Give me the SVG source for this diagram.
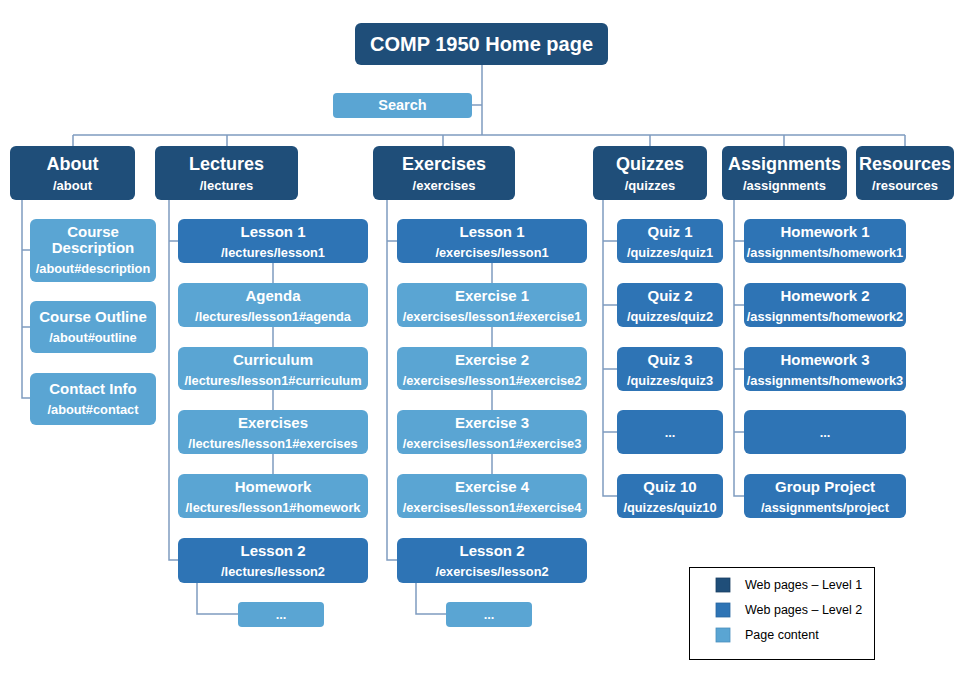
<svg xmlns="http://www.w3.org/2000/svg" width="967" height="674" viewBox="0 0 967 674">
<style>
.l1{fill:#1f4e79}
.l2{fill:#2e74b5}
.pc{fill:#5aa5d3}
text{font-family:"Liberation Sans",Arial,sans-serif;font-weight:bold;fill:#fff;text-anchor:middle}
.t0{font-size:20px}
.t1{font-size:18px}
.s1{font-size:13px}
.t2{font-size:15px}
.s2{font-size:12.8px}
.lg{font-weight:normal;fill:#000;text-anchor:start;font-size:12.5px;font-family:"Liberation Sans",Arial,sans-serif}
.c{fill:none;stroke:#7f9cc0;stroke-width:1.5}
</style>
<rect width="967" height="674" fill="#fff"/>
<g id="connectors" class="c">
<path d="M482 65V135M472 105H482M73 135H905M73 135V146M227 135V146M443 135V146M650 135V146M784 135V146M905 135V146"/>
<path d="M22 200V398H30M22 250H30M22 327H30"/>
<path d="M169 200V560H178M169 241H178M273 263V283M273 327V347M273 390V410M273 454V474M197 583V614H238"/>
<path d="M387 200V560H397M387 241H397M492 263V283M492 327V347M492 390V410M492 454V474M416 583V614H446"/>
<path d="M603 200V496H617M603 241H617M603 305H617M603 369H617M603 432H617"/>
<path d="M734 200V496H744M734 241H744M734 305H744M734 369H744M734 432H744"/>
</g>
<g id="root"><rect class="l1" x="355" y="23" width="253" height="42" rx="6"/><text class="t0" x="481.5" y="51">COMP 1950 Home page</text></g>
<g id="search"><rect class="pc" x="333" y="93" width="139" height="25" rx="4"/><text style="font-size:14.5px" x="402.5" y="110">Search</text></g>
<g id="about"><rect class="l1" x="10" y="146" width="125" height="54" rx="6"/><text class="t1" x="72.5" y="169.5">About</text><text class="s1" x="72.5" y="189.5">/about</text></g>
<g id="lectures"><rect class="l1" x="155" y="146" width="143" height="54" rx="6"/><text class="t1" x="226.5" y="169.5">Lectures</text><text class="s1" x="226.5" y="189.5">/lectures</text></g>
<g id="exercises"><rect class="l1" x="373" y="146" width="142" height="54" rx="6"/><text class="t1" x="444" y="169.5">Exercises</text><text class="s1" x="444" y="189.5">/exercises</text></g>
<g id="quizzes"><rect class="l1" x="593" y="146" width="114" height="54" rx="6"/><text class="t1" x="650" y="169.5">Quizzes</text><text class="s1" x="650" y="189.5">/quizzes</text></g>
<g id="assignments"><rect class="l1" x="722" y="146" width="125" height="54" rx="6"/><text class="t1" x="784.5" y="169.5">Assignments</text><text class="s1" x="784.5" y="189.5">/assignments</text></g>
<g id="resources"><rect class="l1" x="856" y="146" width="98" height="54" rx="6"/><text class="t1" x="905" y="169.5">Resources</text><text class="s1" x="905" y="189.5">/resources</text></g>

<g id="about-description"><rect class="pc" x="30" y="219" width="126" height="63" rx="6"/><text class="t2" x="93" y="237">Course</text><text class="t2" x="93" y="253">Description</text><text class="s2" x="93" y="272.5">/about#description</text></g>
<g id="about-outline"><rect class="pc" x="30" y="301" width="126" height="52" rx="6"/><text class="t2" x="93" y="322">Course Outline</text><text class="s2" x="93" y="341.5">/about#outline</text></g>
<g id="about-contact"><rect class="pc" x="30" y="373" width="126" height="52" rx="6"/><text class="t2" x="93" y="394">Contact Info</text><text class="s2" x="93" y="413.5">/about#contact</text></g>

<g id="lec-lesson1"><rect class="l2" x="178" y="219" width="190" height="44" rx="6"/><text class="t2" x="273" y="237">Lesson 1</text><text class="s2" x="273" y="257">/lectures/lesson1</text></g>
<g id="lec-agenda"><rect class="pc" x="178" y="283" width="190" height="44" rx="6"/><text class="t2" x="273" y="301">Agenda</text><text class="s2" x="273" y="321">/lectures/lesson1#agenda</text></g>
<g id="lec-curriculum"><rect class="pc" x="178" y="347" width="190" height="43" rx="6"/><text class="t2" x="273" y="365">Curriculum</text><text class="s2" x="273" y="385">/lectures/lesson1#curriculum</text></g>
<g id="lec-exercises"><rect class="pc" x="178" y="410" width="190" height="44" rx="6"/><text class="t2" x="273" y="428">Exercises</text><text class="s2" x="273" y="448">/lectures/lesson1#exercises</text></g>
<g id="lec-homework"><rect class="pc" x="178" y="474" width="190" height="44" rx="6"/><text class="t2" x="273" y="492">Homework</text><text class="s2" x="273" y="512">/lectures/lesson1#homework</text></g>
<g id="lec-lesson2"><rect class="l2" x="178" y="538" width="190" height="45" rx="6"/><text class="t2" x="273" y="556">Lesson 2</text><text class="s2" x="273" y="576">/lectures/lesson2</text></g>
<g id="lec-more"><rect class="pc" x="238" y="602" width="86" height="25" rx="4"/><text class="s2" x="281" y="619">...</text></g>

<g id="ex-lesson1"><rect class="l2" x="397" y="219" width="190" height="44" rx="6"/><text class="t2" x="492" y="237">Lesson 1</text><text class="s2" x="492" y="257">/exercises/lesson1</text></g>
<g id="ex-1"><rect class="pc" x="397" y="283" width="190" height="44" rx="6"/><text class="t2" x="492" y="301">Exercise 1</text><text class="s2" x="492" y="321">/exercises/lesson1#exercise1</text></g>
<g id="ex-2"><rect class="pc" x="397" y="347" width="190" height="43" rx="6"/><text class="t2" x="492" y="365">Exercise 2</text><text class="s2" x="492" y="385">/exercises/lesson1#exercise2</text></g>
<g id="ex-3"><rect class="pc" x="397" y="410" width="190" height="44" rx="6"/><text class="t2" x="492" y="428">Exercise 3</text><text class="s2" x="492" y="448">/exercises/lesson1#exercise3</text></g>
<g id="ex-4"><rect class="pc" x="397" y="474" width="190" height="44" rx="6"/><text class="t2" x="492" y="492">Exercise 4</text><text class="s2" x="492" y="512">/exercises/lesson1#exercise4</text></g>
<g id="ex-lesson2"><rect class="l2" x="397" y="538" width="190" height="45" rx="6"/><text class="t2" x="492" y="556">Lesson 2</text><text class="s2" x="492" y="576">/exercises/lesson2</text></g>
<g id="ex-more"><rect class="pc" x="446" y="602" width="86" height="25" rx="4"/><text class="s2" x="489" y="619">...</text></g>

<g id="quiz1"><rect class="l2" x="617" y="219" width="106" height="44" rx="6"/><text class="t2" x="670" y="237">Quiz 1</text><text class="s2" x="670" y="257">/quizzes/quiz1</text></g>
<g id="quiz2"><rect class="l2" x="617" y="283" width="106" height="44" rx="6"/><text class="t2" x="670" y="301">Quiz 2</text><text class="s2" x="670" y="321">/quizzes/quiz2</text></g>
<g id="quiz3"><rect class="l2" x="617" y="347" width="106" height="44" rx="6"/><text class="t2" x="670" y="365">Quiz 3</text><text class="s2" x="670" y="385">/quizzes/quiz3</text></g>
<g id="quiz-more"><rect class="l2" x="617" y="410" width="106" height="44" rx="6"/><text class="s2" x="670" y="437">...</text></g>
<g id="quiz10"><rect class="l2" x="617" y="474" width="106" height="44" rx="6"/><text class="t2" x="670" y="492">Quiz 10</text><text class="s2" x="670" y="512">/quizzes/quiz10</text></g>

<g id="hw1"><rect class="l2" x="744" y="219" width="162" height="44" rx="6"/><text class="t2" x="825" y="237">Homework 1</text><text class="s2" x="825" y="257">/assignments/homework1</text></g>
<g id="hw2"><rect class="l2" x="744" y="283" width="162" height="44" rx="6"/><text class="t2" x="825" y="301">Homework 2</text><text class="s2" x="825" y="321">/assignments/homework2</text></g>
<g id="hw3"><rect class="l2" x="744" y="347" width="162" height="44" rx="6"/><text class="t2" x="825" y="365">Homework 3</text><text class="s2" x="825" y="385">/assignments/homework3</text></g>
<g id="hw-more"><rect class="l2" x="744" y="410" width="162" height="44" rx="6"/><text class="s2" x="825" y="437">...</text></g>
<g id="project"><rect class="l2" x="744" y="474" width="162" height="44" rx="6"/><text class="t2" x="825" y="492">Group Project</text><text class="s2" x="825" y="512">/assignments/project</text></g>

<g id="legend">
<rect x="689.5" y="567.5" width="185" height="92" fill="#fff" stroke="#000" stroke-width="1"/>
<rect class="l1" x="716" y="578" width="14" height="14" stroke="#1a3f63" stroke-width="0.8"/>
<rect class="l2" x="716" y="603" width="14" height="14" stroke="#2a66a0" stroke-width="0.8"/>
<rect class="pc" x="716" y="628" width="14" height="14" stroke="#4a8fbd" stroke-width="0.8"/>
<text class="lg" x="745" y="589">Web pages – Level 1</text>
<text class="lg" x="745" y="614">Web pages – Level 2</text>
<text class="lg" x="745" y="639">Page content</text>
</g>
</svg>
